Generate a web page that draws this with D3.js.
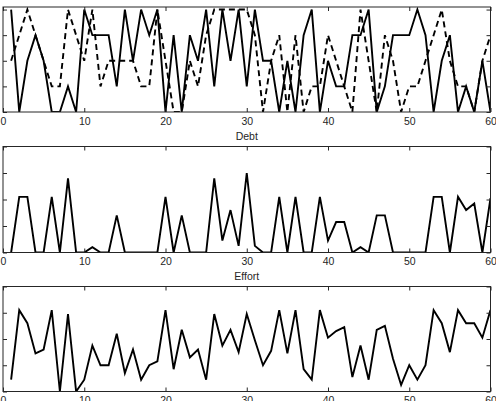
<!DOCTYPE html>
<html>
<head>
<meta charset="utf-8">
<script src="https://cdn.jsdelivr.net/npm/d3@7"></script>
<style>
body { margin: 0; background: #fff; }
text { font-family: "Liberation Sans", Arial, sans-serif; font-size: 10.5px; fill: #262626; }
</style>
</head>
<body>
<div id="chart"></div>
<script>
// values at x = 1..60
const ratingSolid = [4,0,2,3,2,0,0,1,0,4, 3,3,3,1,4,2,4,3,4,0, 3,0,3,2,4,1,4,2,4,1,
                     4,2,2,0,2,0,3,4,0,2, 1,1,3,3,4,0,1,3,3,3, 4,3,0,2,3,0,1,0,2,0];
const ratingDashed = [2,3,4,3,2,1,1,4,3,2, 4,1,2,2,2,2,1,1,4,2, 0,0,2,1,3,4,4,4,4,4,
                      3,0,2,3,0,3,0,1,1,3, 2,1,0,4,2,0,3,2,0,1, 1,2,3,4,2,1,1,0,2,3];
const debt = [0,2.1,2.1,0,0,2.1,0,2.8,0,0, 0.2,0,0,1.4,0,0,0,0,0,2.1, 0,1.4,0,0,0,2.8,0.45,1.6,0.25,3.0,
              0.25,0,0,2.1,0,2.1,0,0,2.1,0.45, 1.15,1.15,0,0.2,0,1.4,1.4,0,0,0, 0,0,2.1,2.1,0,2.1,1.6,1.85,0,2.05];
const effort = [0.45,3.1,2.6,1.45,1.6,3.1,0,2.95,0,0.45, 1.75,1,1,2.2,0.7,1.6,0.45,1,1.15,3.1,
                0.85,2.35,1.3,1.6,0.45,2.95,1.75,2.35,1.5,2.95, 1.95,1,1.55,3.1,1.45,3.1,0.85,0.45,3.1,2.05,
                2.3,2.45,0.55,1.75,0.45,2.35,2.5,1.25,0.25,1, 0.45,1,3.1,2.6,1.5,3.1,2.6,2.6,2.05,3.1];
const xTicks = [0, 10, 20, 30, 40, 50, 60];
const yTicks = [0, 1, 2, 3, 4];

const width = 496, height = 401;
const left = 3, right = 490.5;

const panels = [
    { title: null, top: 7, h: 105, yMax: 4.1,
      series: [{ values: ratingSolid, dash: null }, { values: ratingDashed, dash: "6,4" }] },
    { title: "Debt", top: 146.5, h: 106, yMax: 4, series: [{ values: debt, dash: null }] },
    { title: "Effort", top: 286.5, h: 105, yMax: 4, series: [{ values: effort, dash: null }] }
];

const svg = d3.select("#chart")
    .append("svg")
    .attr("width", width)
    .attr("height", height)
    .attr("viewBox", [0, 0, width, height]);

const x = d3.scaleLinear().domain([0, 60]).range([left, right]);

panels.forEach((p, i) => {
    const y = d3.scaleLinear().domain([0, p.yMax]).range([p.top + p.h, p.top]);
    const g = svg.append("g").attr("class", "panel-" + i);

    g.append("defs").append("clipPath").attr("id", "clip" + i)
        .append("rect")
        .attr("x", left).attr("y", p.top)
        .attr("width", right - left).attr("height", p.h);

    // lines
    const line = d3.line()
        .x((d, j) => x(j + 1))
        .y(d => y(d));

    p.series.forEach(s => {
        g.append("path")
            .datum(s.values)
            .attr("clip-path", "url(#clip" + i + ")")
            .attr("fill", "none")
            .attr("stroke", "#000")
            .attr("stroke-width", 1.9)
            .attr("stroke-linejoin", "miter")
            .attr("stroke-dasharray", s.dash)
            .attr("d", line);
    });

    // axes, ticks inside the box
    const bottom = g.append("g")
        .attr("transform", "translate(0," + (p.top + p.h) + ")")
        .call(d3.axisBottom(x).tickValues(xTicks).tickSizeInner(-4).tickSizeOuter(0).tickPadding(5.5));
    const top = g.append("g")
        .attr("transform", "translate(0," + p.top + ")")
        .call(d3.axisTop(x).tickValues(xTicks).tickSizeInner(-4).tickSizeOuter(0).tickFormat(""));
    const lft = g.append("g")
        .attr("transform", "translate(" + left + ",0)")
        .call(d3.axisLeft(y).tickValues(yTicks).tickSizeInner(-4).tickSizeOuter(0).tickFormat(""));
    const rgt = g.append("g")
        .attr("transform", "translate(" + right + ",0)")
        .call(d3.axisRight(y).tickValues(yTicks).tickSizeInner(-4).tickSizeOuter(0).tickFormat(""));

    [bottom, top, lft, rgt].forEach(a => {
        a.select(".domain").remove();
        a.selectAll("line").attr("stroke", "#262626");
        a.selectAll("text").attr("fill", "#262626").style("font-size", "10.5px")
            .attr("font-family", "Liberation Sans, Arial, sans-serif");
    });

    g.append("rect")
        .attr("x", left).attr("y", p.top)
        .attr("width", right - left).attr("height", p.h)
        .attr("fill", "none")
        .attr("stroke", "#262626")
        .attr("stroke-width", 1);

    if (p.title) {
        g.append("text")
            .attr("x", (left + right) / 2)
            .attr("y", p.top - 7)
            .attr("text-anchor", "middle")
            .text(p.title);
    }
});
</script>
</body>
</html>
